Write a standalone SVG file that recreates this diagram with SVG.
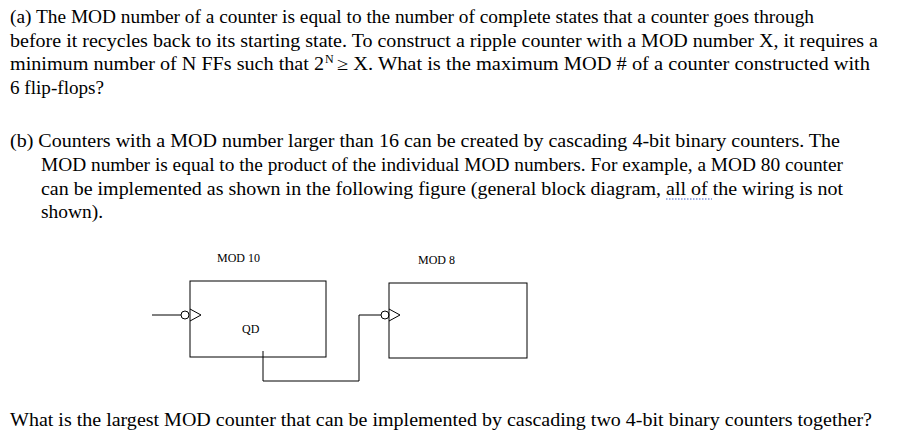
<svg xmlns="http://www.w3.org/2000/svg" width="912" height="448" viewBox="0 0 912 448">
<style>
text{font-family:"Liberation Serif","Times New Roman",serif;fill:#000}
.p{font-size:18px}
.s{font-size:12px}
.b{fill:none;stroke:#000;stroke-width:1}
</style>
<rect width="912" height="448" fill="#fff"/>
<g class="p">
<text x="10" y="23" textLength="804" lengthAdjust="spacingAndGlyphs">(a) The MOD number of a counter is equal to the number of complete states that a counter goes through</text>
<text x="10" y="47" textLength="868" lengthAdjust="spacingAndGlyphs">before it recycles back to its starting state. To construct a ripple counter with a MOD number X, it requires a</text>
<text x="10" y="70" textLength="314" lengthAdjust="spacingAndGlyphs">minimum number of N FFs such that 2</text>
<text x="325" y="63" font-size="12">N</text>
<text x="337" y="70" textLength="533" lengthAdjust="spacingAndGlyphs">≥ X.  What is the maximum MOD # of a counter constructed with</text>
<text x="10" y="94" textLength="94" lengthAdjust="spacingAndGlyphs">6 flip-flops?</text>
<text x="10" y="147" textLength="830" lengthAdjust="spacingAndGlyphs">(b) Counters with a MOD number larger than 16 can be created by cascading 4-bit binary counters. The</text>
<text x="41" y="171" textLength="802" lengthAdjust="spacingAndGlyphs">MOD number is equal to the product of the individual MOD numbers. For example, a MOD 80 counter</text>
<text x="41" y="195" textLength="802" lengthAdjust="spacingAndGlyphs">can be implemented as shown in the following figure (general block diagram, all of the wiring is not</text>
<text x="41" y="218" textLength="62" lengthAdjust="spacingAndGlyphs">shown).</text>
<text x="10" y="426" textLength="862" lengthAdjust="spacingAndGlyphs">What is the largest MOD counter that can be implemented by cascading two 4-bit binary counters together?</text>
</g>
<line x1="666" y1="199" x2="712" y2="199" stroke="#3a5fcd" stroke-width="1" stroke-dasharray="1.5,1.5"/>
<g id="mod10">
<text class="s" x="217" y="262">MOD 10</text>
<rect class="b" x="190" y="281" width="136" height="76"/>
<circle class="b" cx="185" cy="315" r="4"/>
<polyline class="b" points="190,309 201,315 190,321"/>
<text class="s" x="242" y="333">QD</text>
</g>
<g id="mod8">
<text class="s" x="418" y="264">MOD 8</text>
<rect class="b" x="389" y="283" width="138" height="75"/>
<circle class="b" cx="385" cy="315" r="4"/>
<polyline class="b" points="389,309 400,315 389,321"/>
</g>
<g id="connectors">
<line class="b" x1="152" y1="315" x2="181" y2="315"/>
<polyline class="b" points="263,351 263,381 359,381 359,315 381,315"/>
</g>
</svg>
